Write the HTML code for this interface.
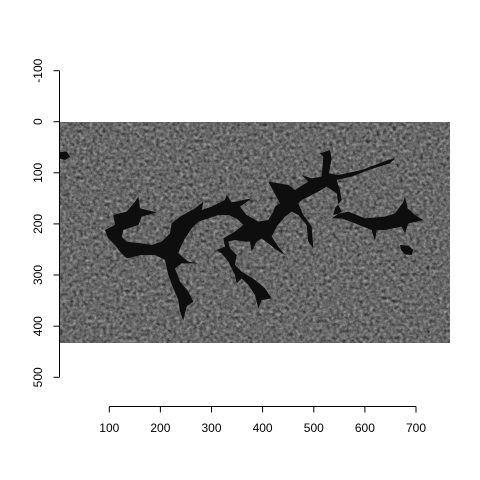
<!DOCTYPE html>
<html><head><meta charset="utf-8"><style>
html,body{margin:0;padding:0;background:#fff;}
svg{display:block;font-family:"Liberation Sans",sans-serif;}
</style></head><body>
<svg width="480" height="480" viewBox="0 0 480 480" xmlns="http://www.w3.org/2000/svg">
<defs>
<filter id="tex" x="0" y="0" width="100%" height="100%" color-interpolation-filters="sRGB">
<feTurbulence type="fractalNoise" baseFrequency="0.3" numOctaves="3" seed="4" result="n"/>
<feColorMatrix in="n" type="matrix" values="0.33 0.33 0.33 0 0  0.33 0.33 0.33 0 0  0.33 0.33 0.33 0 0  0 0 0 0 1" result="g"/>
<feComponentTransfer in="g"><feFuncR type="linear" slope="0.9" intercept="-0.04"/><feFuncG type="linear" slope="0.9" intercept="-0.04"/><feFuncB type="linear" slope="0.9" intercept="-0.04"/></feComponentTransfer>
</filter>
<clipPath id="imgclip"><rect x="59" y="122" width="391" height="221"/></clipPath>
</defs>
<g clip-path="url(#imgclip)">
<rect x="59" y="122" width="391" height="221" fill="#6a6a6a" filter="url(#tex)"/>
<g transform="translate(55,115) scale(0.3333)" fill="#0e0e0e">
<path d="M150,345 L180,330 L175,300 L215,290 L240,260 L250,245 L255,280 L305,292 L260,305 L250,330 L205,345 L200,365 L215,380 L260,385 L290,390 L320,380 L345,355 L350,325 L375,305 L420,280 L445,260 L440,285 L470,275 L510,255 L515,240 L530,262 L590,250 L555,275 L575,300 L610,320 L640,315 L655,290 L660,275 L675,265 L640,200 L700,210 L720,225 L760,200 L740,180 L770,190 L800,185 L805,125 L795,115 L825,105 L830,130 L822,175 L850,180 L920,165 L1000,135 L1020,130 L1005,145 L940,165 L890,185 L845,195 L855,225 L860,255 L840,280 L835,300 L880,290 L930,310 L990,305 L1020,295 L1045,262 L1050,245 L1058,280 L1080,300 L1105,315 L1060,325 L1050,355 L1040,335 L990,345 L965,345 L960,378 L950,345 L900,325 L860,310 L830,310 L860,290 L850,270 L845,235 L815,215 L790,230 L740,255 L730,265 L745,300 L770,335 L775,400 L760,380 L755,330 L730,300 L710,290 L690,305 L665,335 L650,365 L670,395 L690,420 L665,405 L640,385 L620,370 L605,380 L590,410 L585,380 L570,380 L540,375 L520,380 L525,400 L545,420 L540,450 L560,470 L600,495 L630,520 L650,550 L620,555 L610,580 L600,540 L580,510 L560,490 L545,505 L540,480 L520,440 L500,415 L485,405 L510,395 L505,370 L540,350 L565,330 L545,310 L520,300 L490,300 L460,310 L430,320 L410,340 L390,370 L375,400 L370,415 L400,440 L430,445 L380,445 L360,460 L375,500 L400,530 L415,560 L395,575 L385,615 L375,590 L370,555 L355,520 L340,480 L330,435 L300,420 L260,420 L215,430 L195,410 L180,390 L160,370 Z"/>
<path d="M1035,390 L1060,392 L1075,405 L1070,420 L1050,418 L1038,405 Z"/>
<path d="M10,112 L35,110 L45,125 L30,135 L12,130 Z"/>
</g>
</g>
<g stroke="#000" stroke-width="1" fill="none">
<line x1="59.5" y1="70.7" x2="59.5" y2="377.3"/>
<line x1="53.5" y1="70.7" x2="59.5" y2="70.7"/>
<line x1="53.5" y1="121.7" x2="59.5" y2="121.7"/>
<line x1="53.5" y1="172.8" x2="59.5" y2="172.8"/>
<line x1="53.5" y1="223.9" x2="59.5" y2="223.9"/>
<line x1="53.5" y1="275.0" x2="59.5" y2="275.0"/>
<line x1="53.5" y1="326.2" x2="59.5" y2="326.2"/>
<line x1="53.5" y1="377.3" x2="59.5" y2="377.3"/>
</g>
<g font-size="12" fill="#000" text-anchor="middle">
<text transform="translate(42,70.7) rotate(-90)">-100</text>
<text transform="translate(42,121.7) rotate(-90)">0</text>
<text transform="translate(42,172.8) rotate(-90)">100</text>
<text transform="translate(42,223.9) rotate(-90)">200</text>
<text transform="translate(42,275.0) rotate(-90)">300</text>
<text transform="translate(42,326.2) rotate(-90)">400</text>
<text transform="translate(42,377.3) rotate(-90)">500</text>
</g>
<g stroke="#000" stroke-width="1" fill="none">
<line x1="109.3" y1="406.5" x2="416" y2="406.5"/>
<line x1="109.3" y1="406.5" x2="109.3" y2="412.5"/>
<line x1="160.4" y1="406.5" x2="160.4" y2="412.5"/>
<line x1="211.5" y1="406.5" x2="211.5" y2="412.5"/>
<line x1="262.6" y1="406.5" x2="262.6" y2="412.5"/>
<line x1="313.8" y1="406.5" x2="313.8" y2="412.5"/>
<line x1="364.9" y1="406.5" x2="364.9" y2="412.5"/>
<line x1="416" y1="406.5" x2="416" y2="412.5"/>
</g>
<g font-size="12" fill="#000" text-anchor="middle">
<text x="109.3" y="432">100</text>
<text x="160.4" y="432">200</text>
<text x="211.5" y="432">300</text>
<text x="262.6" y="432">400</text>
<text x="313.8" y="432">500</text>
<text x="364.9" y="432">600</text>
<text x="416" y="432">700</text>
</g>
</svg>
</body></html>
